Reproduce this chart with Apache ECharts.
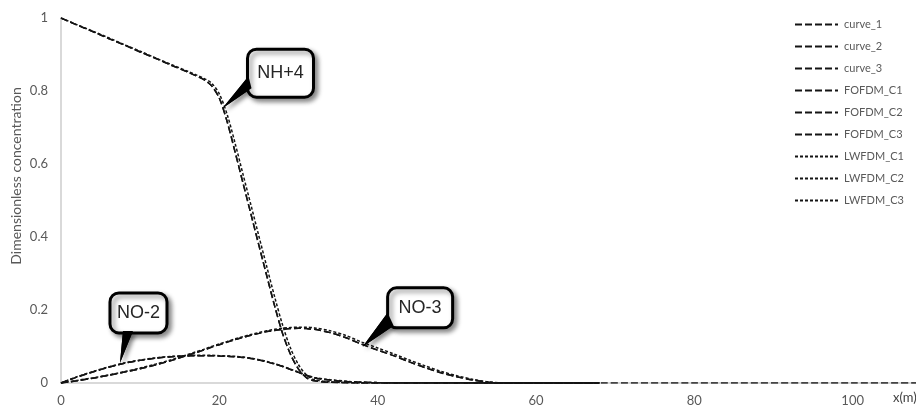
<!DOCTYPE html>
<html>
<head>
<meta charset="utf-8">
<script src="https://cdn.jsdelivr.net/npm/echarts@6/dist/echarts.min.js"></script>
<style>html,body{margin:0;padding:0;background:#fff}#c{width:916px;height:414px}</style>
</head>
<body>
<div id="c"></div>
<script>
// x positions (m)
var xs = [0,2,4,6,8,10,12,14,16,17,18,19,20,21,22,23,24,25,26,27,28,29,30,31,32,34,36,38,40,42,44,46,48,50,52,54,56,60,64,68,80,100,110];

// NH4+ (C1)
var curve_1 = [1.0,0.981,0.963,0.944,0.926,0.907,0.889,0.870,0.852,0.842,0.832,0.815,0.780,0.715,0.632,0.547,0.462,0.377,0.293,0.210,0.135,0.078,0.038,0.015,0.006,0.002,0.001,0,0,0,0,0,0,0,0,0,0,0,0,0,0,0,0];
var FOFDM_C1 = [1.0,0.981,0.963,0.944,0.926,0.907,0.889,0.870,0.852,0.842,0.832,0.815,0.780,0.715,0.632,0.547,0.462,0.377,0.293,0.210,0.135,0.078,0.038,0.015,0.006,0.002,0.001,0,0,0,0,0,0,0,0,0,0,0,0,0,null,null,null];
var LWFDM_C1 = [1.0,0.982,0.964,0.946,0.927,0.909,0.890,0.872,0.854,0.845,0.835,0.822,0.792,0.735,0.656,0.571,0.487,0.402,0.318,0.235,0.158,0.095,0.050,0.022,0.009,0.003,0.001,0,0,0,0,0,0,0,0,0,0,0,0,0,null,null,null];

// NO2- (C2)
var curve_2 = [0,0.016,0.030,0.043,0.054,0.062,0.068,0.072,0.074,0.075,0.075,0.075,0.074,0.073,0.072,0.070,0.067,0.063,0.058,0.052,0.045,0.037,0.029,0.021,0.014,0.008,0.004,0.002,0.001,0,0,0,0,0,0,0,0,0,0,0,null,null,null];
var FOFDM_C2 = [0,0.016,0.030,0.043,0.054,0.062,0.068,0.072,0.074,0.075,0.075,0.075,0.074,0.073,0.072,0.070,0.067,0.063,0.058,0.052,0.045,0.037,0.029,0.021,0.014,0.008,0.004,0.002,0.001,0,0,0,0,0,0,0,0,0,0,0,null,null,null];
var LWFDM_C2 = [0,0.017,0.031,0.044,0.055,0.063,0.069,0.073,0.075,0.076,0.076,0.076,0.075,0.074,0.073,0.071,0.068,0.064,0.059,0.053,0.046,0.038,0.030,0.022,0.015,0.009,0.005,0.002,0.001,0,0,0,0,0,0,0,0,0,0,0,null,null,null];

// NO3- (C3)
var curve_3 = [0,0.006,0.013,0.021,0.030,0.039,0.050,0.062,0.076,0.083,0.090,0.098,0.105,0.112,0.119,0.125,0.131,0.136,0.141,0.144,0.147,0.149,0.150,0.149,0.147,0.138,0.124,0.106,0.090,0.075,0.058,0.042,0.028,0.017,0.008,0.002,0,0,0,0,null,null,null];
var FOFDM_C3 = [0,0.006,0.013,0.021,0.030,0.039,0.050,0.062,0.076,0.083,0.090,0.098,0.105,0.112,0.119,0.125,0.131,0.136,0.141,0.144,0.147,0.149,0.150,0.149,0.147,0.138,0.124,0.106,0.090,0.075,0.058,0.042,0.028,0.017,0.008,0.002,0,0,0,0,null,null,null];
var LWFDM_C3 = [0,0.007,0.014,0.022,0.031,0.041,0.052,0.064,0.078,0.085,0.092,0.100,0.107,0.114,0.121,0.127,0.133,0.138,0.143,0.147,0.150,0.152,0.153,0.153,0.151,0.143,0.130,0.112,0.096,0.080,0.063,0.047,0.032,0.020,0.010,0.003,0,0,0,0,null,null,null];

var seriesNames = ['curve_1','curve_2','curve_3','FOFDM_C1','FOFDM_C2','FOFDM_C3','LWFDM_C1','LWFDM_C2','LWFDM_C3'];
var seriesValues = [curve_1,curve_2,curve_3,FOFDM_C1,FOFDM_C2,FOFDM_C3,LWFDM_C1,LWFDM_C2,LWFDM_C3];

var yTicks = [0,0.2,0.4,0.6,0.8,1];
var xTicks = [0,20,40,60,80,100];

// callout labels anchored at data coords
var callouts = [
  {text:'NH+4', at:[20.4,0.753]},
  {text:'NO-2', at:[7.45,0.055]},
  {text:'NO-3', at:[38.1,0.099]}
];

function pairs(v){ var o=[]; for(var i=0;i<xs.length;i++){ o.push([xs[i], v[i]]); } return o; }

var longDash = [7,3];
var shortDash = [3,2];

var series = seriesNames.map(function(n,i){
  var isLW = n.indexOf('LWFDM')===0;
  return {
    name:n, type:'line', data:pairs(seriesValues[i]), symbol:'none', smooth:0.3,
    connectNulls:false, animation:false, legendIcon:'none',
    lineStyle:{color:'#141414', width:1.5, type: isLW ? shortDash : longDash},
    itemStyle:{color:'#141414'}
  };
});

var chart = echarts.init(document.getElementById('c'), null, {renderer:'canvas'});
var txt = '#595959';
chart.setOption({
  animation:false,
  backgroundColor:'#ffffff',
  grid:{left:61, right:0, top:18, bottom:31, containLabel:false},
  legend:{
    orient:'vertical', left:789, top:14, itemWidth:43, itemHeight:10, itemGap:11,
    itemStyle:{opacity:0},
    textStyle:{color:txt, fontFamily:'Lato', fontSize:11, padding:[0,0,0,1]},
    data:seriesNames
  },
  xAxis:{
    type:'value', min:0, max:108, interval:20,
    axisLine:{lineStyle:{color:'#d9d9d9', width:2}},
    axisTick:{show:false}, splitLine:{show:false},
    axisLabel:{color:txt, fontFamily:'Lato', fontSize:13, margin:11, showMaxLabel:false}
  },
  yAxis:{
    type:'value', min:0, max:1, interval:0.2,
    axisLine:{show:true, lineStyle:{color:'#d9d9d9', width:2}},
    axisTick:{show:false}, splitLine:{show:false},
    axisLabel:{color:txt, fontFamily:'Lato', fontSize:13, margin:13}
  },
  series:series
});

var offsets = [
  {bx:25, by:-59, w:66, h:48, base:[[26,-32],[29,-20]]},
  {bx:-10, by:-70, w:57, h:40, base:[[3,-32],[13,-32]]},
  {bx:25, by:-59, w:65, h:40, base:[[25,-34],[31,-21]]}
];
var g = [];
callouts.forEach(function(c,i){
  var p = chart.convertToPixel({xAxisIndex:0,yAxisIndex:0}, c.at);
  var o = offsets[i];
  g.push({type:'polygon', z:100, shape:{points:[[p[0],p[1]],[p[0]+o.base[0][0],p[1]+o.base[0][1]],[p[0]+o.base[1][0],p[1]+o.base[1][1]]]},
    style:{fill:'#000', shadowBlur:4, shadowOffsetX:3, shadowOffsetY:3, shadowColor:'rgba(0,0,0,0.45)'}});
  g.push({type:'rect', z:101, shape:{x:p[0]+o.bx, y:p[1]+o.by, width:o.w, height:o.h, r:9},
    style:{fill:'#fff', stroke:'#000', lineWidth:3, shadowBlur:5, shadowOffsetX:3, shadowOffsetY:3, shadowColor:'rgba(0,0,0,0.45)'}});
  g.push({type:'polygon', z:102, shape:{points:[[p[0],p[1]],[p[0]+o.base[0][0],p[1]+o.base[0][1]],[p[0]+o.base[1][0],p[1]+o.base[1][1]]]},
    style:{fill:'#000'}});
  g.push({type:'text', z:103, style:{text:c.text, x:p[0]+o.bx+o.w/2, y:p[1]+o.by+o.h/2, align:'center', verticalAlign:'middle',
    fill:'#262626', font:'18px "Liberation Sans", Arial, sans-serif'}});
});
g.push({type:'text', z:50, x:16, y:176, rotation:Math.PI/2,
  style:{text:'Dimensionless concentration', x:0, y:0, align:'center', verticalAlign:'middle', fill:txt, font:'14px Lato'}});
g.push({type:'text', z:50, style:{text:'x(m)', x:893, y:398, align:'left', verticalAlign:'middle', fill:'#404040', font:'13px Lato'}});
chart.setOption({graphic:g});
</script>
</body>
</html>
